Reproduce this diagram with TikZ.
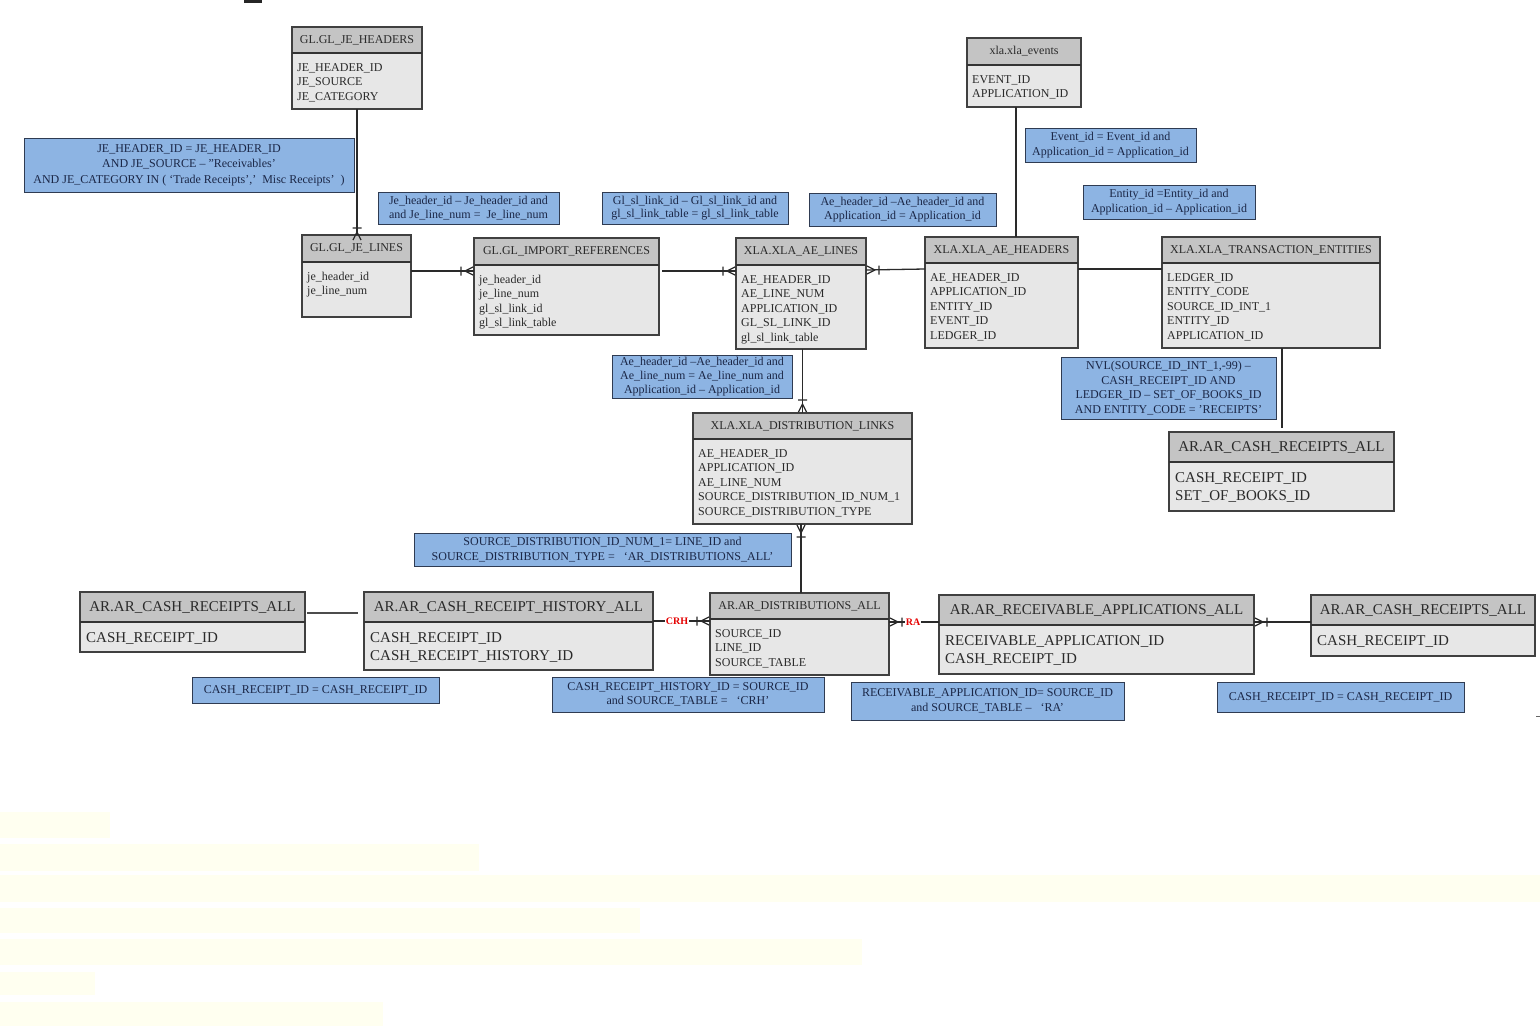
\documentclass[tikz,border=0pt]{standalone}
\usepackage{fontspec}
\setmainfont{Liberation Serif}
\usetikzlibrary{calc}
\definecolor{hdrfill}{HTML}{C4C4C4}
\definecolor{bodyfill}{HTML}{E7E7E7}
\definecolor{tborder}{HTML}{404040}
\definecolor{ttext}{HTML}{2A2A2A}
\definecolor{nfill}{HTML}{8DB4E3}
\definecolor{nborder}{HTML}{2F3B52}
\definecolor{ntext}{HTML}{1B2747}
\definecolor{lcol}{HTML}{2A2A2A}
\definecolor{band}{HTML}{FFFFF0}
\newcommand\ertable[9]{%
  \node[#7hdr, minimum width=#4, minimum height=#5] (#1) at (#2,#3) {#8};
  \node[bodybox, minimum width=#4, minimum height=#6] (#1b) at (#1.south west) {};
  \draw[draw=tborder!80!black, line width=1.9pt] (#1.south west) -- (#1.south east);
  \node[#7fld] (#1t) at (#1b.north west) {\begin{tabular}[t]{@{}l@{}}#9\end{tabular}};
}
\newcommand\crowfoot[2]{%
  \begin{scope}[shift={(#1)}, rotate=#2, x=1pt, y=1pt]
    \draw[conn] (9,0) -- (1,4) (9,0) -- (1,-4) (13,4.5) -- (13,-4.5);
  \end{scope}}
\begin{document}
\begin{tikzpicture}[x=1pt,y=-1pt,
  tbox/.style={draw=tborder, line width=1.3pt, outer sep=0pt, inner sep=0pt, anchor=north west},
  smhdr/.style={tbox, fill=hdrfill, font=\fontsize{12}{14.5}\selectfont, text=ttext},
  lghdr/.style={tbox, fill=hdrfill, font=\fontsize{15}{18}\selectfont, text=ttext},
  bodybox/.style={tbox, fill=bodyfill},
  smfld/.style={anchor=base west, inner sep=0pt, font=\fontsize{12}{14.5}\selectfont, text=ttext, xshift=5pt, yshift=-18pt},
  lgfld/.style={anchor=base west, inner sep=0pt, font=\fontsize{15}{18}\selectfont, text=ttext, xshift=6pt, yshift=-20pt},
  note/.style={draw=nborder, line width=1pt, fill=nfill, anchor=north west, inner sep=0pt, outer sep=0pt, align=center, font=\fontsize{12}{14.5}\selectfont, text=ntext},
  conn/.style={draw=lcol, line width=1.3pt},
  rlab/.style={font=\fontsize{10}{11}\selectfont\bfseries, text=red!90!black, fill=white, inner sep=0.6pt}
]
\useasboundingbox (0,0) rectangle (1540,1026);
\fill[white] (0,0) rectangle (1540,1026);

% faint highlight bands at the bottom
\fill[band] (0,812) rectangle (110,838);
\fill[band] (0,844) rectangle (479,871);
\fill[band] (0,875) rectangle (1540,902);
\fill[band] (0,908) rectangle (640,933);
\fill[band] (0,939) rectangle (862,965);
\fill[band] (0,972) rectangle (95,995);
\fill[band] (0,1002) rectangle (383,1026);
\fill[black!85] (244,0) rectangle (262,3);
\draw[black!60, line width=0.8pt] (1536,716) -- (1540,716);

% tables
\ertable{jeh}{292}{27}{130}{26}{56}{sm}{GL.GL\_JE\_HEADERS}{JE\_HEADER\_ID\\JE\_SOURCE\\JE\_CATEGORY}
\ertable{jel}{302}{235}{109}{27}{55}{sm}{GL.GL\_JE\_LINES}{je\_header\_id\\je\_line\_num}
\ertable{ir}{474}{238}{185}{27}{70}{sm}{GL.GL\_IMPORT\_REFERENCES}{je\_header\_id\\je\_line\_num\\gl\_sl\_link\_id\\gl\_sl\_link\_table}
\ertable{ael}{736}{238}{130}{27}{84}{sm}{XLA.XLA\_AE\_LINES}{AE\_HEADER\_ID\\AE\_LINE\_NUM\\APPLICATION\_ID\\GL\_SL\_LINK\_ID\\gl\_sl\_link\_table}
\ertable{aeh}{925}{237}{153}{26}{85}{sm}{XLA.XLA\_AE\_HEADERS}{AE\_HEADER\_ID\\APPLICATION\_ID\\ENTITY\_ID\\EVENT\_ID\\LEDGER\_ID}
\ertable{ev}{967}{38}{114}{27}{42}{sm}{xla.xla\_events}{EVENT\_ID\\APPLICATION\_ID}
\ertable{te}{1162}{237}{218}{26}{85}{sm}{XLA.XLA\_TRANSACTION\_ENTITIES}{LEDGER\_ID\\ENTITY\_CODE\\SOURCE\_ID\_INT\_1\\ENTITY\_ID\\APPLICATION\_ID}
\ertable{cra1}{1169}{432}{225}{30}{49}{lg}{AR.AR\_CASH\_RECEIPTS\_ALL}{CASH\_RECEIPT\_ID\\SET\_OF\_BOOKS\_ID}
\ertable{dl}{693}{413}{219}{26}{85}{sm}{XLA.XLA\_DISTRIBUTION\_LINKS}{AE\_HEADER\_ID\\APPLICATION\_ID\\AE\_LINE\_NUM\\SOURCE\_DISTRIBUTION\_ID\_NUM\_1\\SOURCE\_DISTRIBUTION\_TYPE}
\ertable{dist}{710}{593}{179}{26}{56}{sm}{AR.AR\_DISTRIBUTIONS\_ALL}{SOURCE\_ID\\LINE\_ID\\SOURCE\_TABLE}
\ertable{crh}{364}{592}{289}{30}{48}{lg}{AR.AR\_CASH\_RECEIPT\_HISTORY\_ALL}{CASH\_RECEIPT\_ID\\CASH\_RECEIPT\_HISTORY\_ID}
\ertable{cra2}{80}{592}{225}{30}{30}{lg}{AR.AR\_CASH\_RECEIPTS\_ALL}{CASH\_RECEIPT\_ID}
\ertable{ra}{939}{595}{315}{30}{49}{lg}{AR.AR\_RECEIVABLE\_APPLICATIONS\_ALL}{RECEIVABLE\_APPLICATION\_ID\\CASH\_RECEIPT\_ID}
\ertable{cra3}{1311}{595}{224}{30}{31}{lg}{AR.AR\_CASH\_RECEIPTS\_ALL}{CASH\_RECEIPT\_ID}

% notes
\node[note, minimum width=330, minimum height=54, font=\fontsize{12}{15.5}\selectfont] (n1) at (24,138)
  {JE\_HEADER\_ID = JE\_HEADER\_ID\\AND JE\_SOURCE – "Receivables’\\AND JE\_CATEGORY IN ( ‘Trade Receipts’,’\ \ Misc Receipts’\ \ )};
\node[note, minimum width=181, minimum height=32, font=\fontsize{12}{13.5}\selectfont] (n2) at (378,192)
  {Je\_header\_id – Je\_header\_id and\\and Je\_line\_num =\ \ Je\_line\_num};
\node[note, minimum width=186, minimum height=32, font=\fontsize{12}{13.5}\selectfont] (n3) at (602,192)
  {Gl\_sl\_link\_id – Gl\_sl\_link\_id and\\gl\_sl\_link\_table = gl\_sl\_link\_table};
\node[note, minimum width=187, minimum height=33] (n4) at (809,193)
  {Ae\_header\_id –Ae\_header\_id and\\Application\_id = Application\_id};
\node[note, minimum width=171, minimum height=34] (n5) at (1025,128)
  {Event\_id = Event\_id and\\Application\_id = Application\_id};
\node[note, minimum width=172, minimum height=34] (n6) at (1083,185)
  {Entity\_id =Entity\_id and\\Application\_id – Application\_id};
\node[note, minimum width=215, minimum height=62] (n7) at (1061,357)
  {NVL(SOURCE\_ID\_INT\_1,-99) –\\CASH\_RECEIPT\_ID AND\\LEDGER\_ID – SET\_OF\_BOOKS\_ID\\AND ENTITY\_CODE = ’RECEIPTS’};
\node[note, minimum width=180, minimum height=43, font=\fontsize{12}{14}\selectfont] (n8) at (612,355)
  {Ae\_header\_id –Ae\_header\_id and\\Ae\_line\_num = Ae\_line\_num and\\Application\_id – Application\_id};
\node[note, minimum width=377, minimum height=33] (n9) at (414,533)
  {SOURCE\_DISTRIBUTION\_ID\_NUM\_1= LINE\_ID and\\SOURCE\_DISTRIBUTION\_TYPE =\ \ \ ‘AR\_DISTRIBUTIONS\_ALL’};
\node[note, minimum width=247, minimum height=26] (n10) at (192,677)
  {CASH\_RECEIPT\_ID = CASH\_RECEIPT\_ID};
\node[note, minimum width=272, minimum height=35] (n11) at (552,677)
  {CASH\_RECEIPT\_HISTORY\_ID = SOURCE\_ID\\and SOURCE\_TABLE =\ \ \ ‘CRH’};
\node[note, minimum width=273, minimum height=38] (n12) at (851,682)
  {RECEIVABLE\_APPLICATION\_ID= SOURCE\_ID\\and SOURCE\_TABLE –\ \ \ ‘RA’};
\node[note, minimum width=247, minimum height=30] (n13) at (1217,682)
  {CASH\_RECEIPT\_ID = CASH\_RECEIPT\_ID};

% connectors
\coordinate (jelend) at (jehb.south |- jel.north);
\draw[conn] (jehb.south) -- (jelend);
\crowfoot{[yshift=-6pt]jelend}{90}

\draw[conn] (jelb.east |- 0,271) -- (irb.west |- 0,271);
\crowfoot{irb.west |- 0,271}{180}

\draw[conn] ([xshift=3pt]irb.east |- 0,271) -- (aelb.west |- 0,271);
\crowfoot{aelb.west |- 0,271}{180}

\draw[conn] (aelb.east |- 0,270) -- (aehb.west |- 0,269);
\crowfoot{aelb.east |- 0,270}{0}

\draw[conn] (evb.south -| 1016,0) -- (aeh.north -| 1016,0);

\draw[conn] (aehb.east |- 0,269) -- (teb.west |- 0,269);

\draw[conn] (teb.south -| 1282,0) -- ([yshift=4pt]cra1.north -| 1282,0);

\draw[conn] (aelb.south -| dl.north) -- (dl.north);
\crowfoot{dl.north}{90}

\draw[conn] (dlb.south -| 801,0) -- (dist.north -| 801,0);
\crowfoot{dlb.south -| 801,0}{270}

\draw[conn, line width=1.8pt, draw=black!70, shorten <=2pt, shorten >=6pt] (cra2.east |- 0,613) -- (crh.west |- 0,613);

\draw[conn] (crhb.east |- 0,621) -- node[rlab, pos=0.42] (lcrh) {CRH} (distb.west |- 0,621);
\crowfoot{distb.west |- 0,621}{180}

\draw[conn] (distb.east |- 0,622) -- node[rlab, pos=0.48] (lra) {RA} (rab.west |- 0,622);
\crowfoot{distb.east |- 0,622}{0}

\draw[conn] (rab.east |- 0,622) -- (cra3b.west |- 0,622);
\crowfoot{rab.east |- 0,622}{0}
\end{tikzpicture}
\end{document}
